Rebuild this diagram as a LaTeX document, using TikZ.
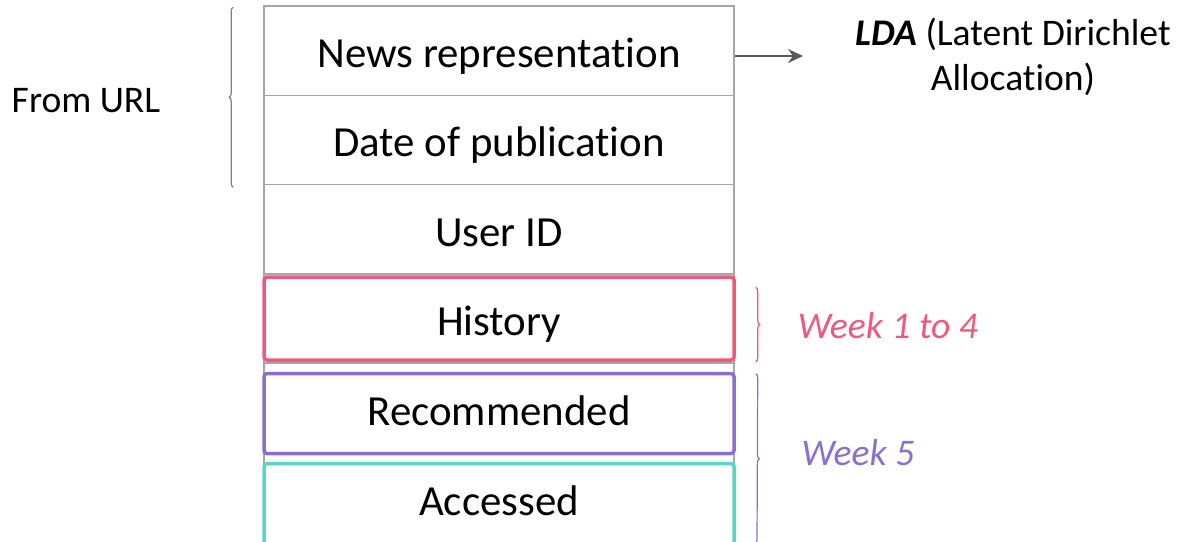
\documentclass[tikz,border=0pt]{standalone}
\usepackage{fontspec}
\setmainfont{Carlito}[Ligatures=NoCommon]
\usetikzlibrary{positioning, arrows.meta, decorations.pathreplacing}
\definecolor{histpink}{HTML}{F2587B}
\definecolor{recpurple}{HTML}{8A6FCC}
\definecolor{accteal}{HTML}{5AD5C1}
\definecolor{gridgray}{HTML}{A6A6A6}
\definecolor{bracegray}{HTML}{808080}
\definecolor{arrowgray}{HTML}{595959}

\begin{document}
\begin{tikzpicture}[x=0.1mm, y=-0.1mm,
    font=\fontsize{10.7}{13}\selectfont,
    rowfont/.style={font=\fontsize{12.2}{14}\selectfont},
    cell/.style={rowfont, draw=gridgray, line width=0.15mm, minimum width=47mm,
      minimum height=8.93mm, inner sep=0pt, text height=3.4mm, text depth=0mm},
    weekbox/.style={rowfont, draw=#1, line width=0.35mm, minimum width=47mm,
      inner sep=0pt, rounded corners=0.3mm},
    bracket/.style={decorate, decoration={brace, amplitude=0.4mm},
      line width=0.12mm}]

  \useasboundingbox (0,0) rectangle (1179,542);
  \clip (0,0) rectangle (1179,542);

  % ---- table rows ----
  \foreach \i/\txt in {0/News representation, 1/Date of publication, 2/User ID, 3/, 4/} {
    \node[cell] (row\i) at (499, 50.6+89.3*\i) {\txt};
  }
  \node[cell, minimum height=10mm, below=0pt of row4] (row5) {};

  % ---- coloured rows: history, recommended, accessed ----
  \node[weekbox=histpink, minimum height=8.3mm, text height=3.4mm, text depth=0mm]
    (history) at (499,318.5) {History};
  \node[weekbox=recpurple, minimum height=8.0mm, text depth=0.5mm]
    (recommended) at (499,413.5) {Recommended};
  \node[weekbox=accteal, minimum height=8.9mm] (accbox) at (499,508) {};
  \node[rowfont] (accessed) at (499,501) {Accessed};

  % source of the first two rows
  \node (fromurl) at (86,101) {From URL};
  \draw[bracket, bracegray] ([xshift=-3.0mm, yshift=-0.2mm]row1.south west)
    -- ([xshift=-3.0mm, yshift=-0.2mm]row0.north west);

  % topic model
  \node[align=center] (lda) at (1013,57)
    {\textbf{\textit{LDA}} (Latent Dirichlet\\Allocation)};
  \coordinate (ldain) at (803,56);
  \draw[arrowgray, line width=0.18mm, -{Stealth[length=1.5mm, width=1.4mm, inset=0.5mm]}]
    ([yshift=-0.55mm]row0.east) -- (ldain);

  % weeks
  \coordinate (weekend) at (755,544);
  \draw[bracket, histpink] ([xshift=2.0mm, yshift=-1.2mm]history.north east)
    -- ([xshift=2.0mm]history.south east);
  \draw[bracket, recpurple] ([xshift=2.0mm, yshift=-0.2mm]recommended.north east)
    -- (weekend);
  \node[histpink, font=\fontsize{10.7}{13}\selectfont\itshape] (week14) at (888,326) {Week 1 to 4};
  \node[recpurple, font=\fontsize{10.7}{13}\selectfont\itshape] (week5) at (858,453) {Week 5};

\end{tikzpicture}
\end{document}
